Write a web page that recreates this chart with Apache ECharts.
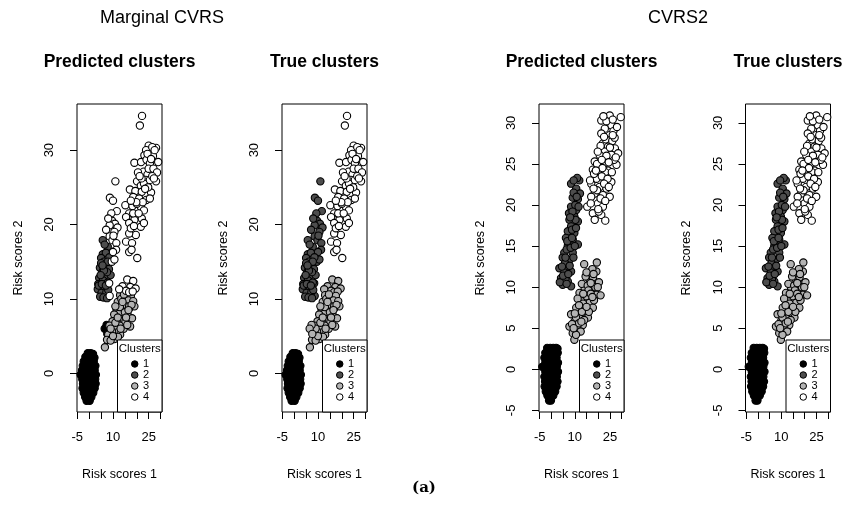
<!DOCTYPE html>
<html>
<head>
<meta charset="utf-8">
<script src="https://cdn.jsdelivr.net/npm/echarts@6/dist/echarts.min.js"></script>
<style>html,body{margin:0;padding:0;background:#fff}#c{width:846px;height:516px}</style>
</head>
<body>
<div id="c"></div>
<script>
// ---------- tick values ----------
const xTicks = [-5, 0, 5, 10, 15, 20, 25, 30];
const xTickLabels = [-5, 10, 25];
const yTicksMarg = [0, 10, 20, 30];
const yTicksCvrs = [-5, 0, 5, 10, 15, 20, 25, 30];
const clusterNames = ['1', '2', '3', '4'];

// ---------- Marginal CVRS data ----------
// true cluster 1 (predicted 1): [x, y]
const margC1 = [
  [-0.6,2.7],[0.6,2.7],[1.6,2.6],
  [-1.6,2.2],[-0.2,2.2],[1.2,2.2],[2.2,2.1],
  [-2.3,1.6],[-0.9,1.6],[0.5,1.6],[1.9,1.6],
  [-2.7,1.0],[-1.4,1.0],[0.0,1.0],[1.4,1.0],[2.6,1.0],
  [-3.0,0.4],[-1.8,0.4],[-0.5,0.4],[0.9,0.4],[2.3,0.4],
  [-3.6,-0.2],[-2.5,-0.2],[-1.1,-0.2],[0.3,-0.2],[1.7,-0.2],[2.8,-0.2],
  [-2.9,-0.8],[-1.7,-0.8],[-0.3,-0.8],[1.1,-0.8],[2.5,-0.8],
  [-2.6,-1.4],[-1.2,-1.4],[0.3,-1.4],[1.7,-1.4],[2.7,-1.4],
  [-2.8,-2.0],[-1.6,-2.0],[-0.2,-2.0],[1.3,-2.0],[2.3,-2.0],
  [-2.3,-2.6],[-0.9,-2.6],[0.5,-2.6],[1.7,-2.6],
  [-1.7,-3.2],[-0.4,-3.2],[0.9,-3.2],
  [-1.1,-3.7],[0.2,-3.7]
];
// true cluster 2: [x, y, predicted cluster]
const margC2 = [
  [11.0,25.8,4],[8.7,23.6,4],[10.0,23.2,4],[11.6,21.8,4],[9.6,20.5,4],[10.8,20.1,4],
  [8.6,19.9,4],[11.9,19.6,4],[7.1,19.3,4],[10.6,19.0,4],[8.6,18.4,4],[9.8,17.9,4],
  [11.4,17.5,4],[11.3,16.6,4],[10.0,16.3,4],[9.5,15.0,4],[10.6,15.3,4],[8.4,12.1,4],[8.6,10.4,4],
  [9.3,21.5,4],[10.2,18.5,4],[8.0,20.8,4],
  [5.7,17.9,2],[7.8,17.0,2],[6.5,17.3,2],[5.7,16.0,2],[7.0,16.2,2],[5.0,15.5,2],[8.5,15.6,2],
  [6.2,15.0,2],[7.2,14.5,2],[4.5,14.2,2],[8.3,14.0,2],[5.5,13.6,2],[6.8,13.2,2],[4.2,12.8,2],
  [9.0,13.2,2],[5.8,12.5,2],[7.8,12.2,2],[3.8,12.0,2],[4.9,11.6,2],[6.5,11.4,2],[3.6,11.3,2],
  [5.2,10.8,2],[7.2,10.9,2],[4.6,10.3,2],[6.0,10.2,2],[7.5,10.1,2],[5.0,14.8,2],[6.0,14.0,2],
  [7.5,13.6,2],[4.0,11.8,2],[8.0,11.2,2],[5.3,12.0,2],[7.0,11.8,2],[6.2,13.8,2],[4.8,13.2,2],
  [7.8,15.0,2],[5.6,14.5,2]
];
// true cluster 3: [x, y, predicted cluster]
const margC3 = [
  [16.0,12.6,4],[18.5,12.4,4],[14.0,11.7,4],[17.3,11.6,4],[19.5,11.4,4],[15.5,11.1,4],
  [12.6,11.3,4],[16.8,10.9,4],[18.3,11.0,4],
  [13.0,10.5,3],[17.5,10.4,3],[14.8,10.0,3],[16.5,9.8,3],[12.0,9.6,3],[18.5,9.7,3],
  [13.6,9.2,3],[15.6,9.0,3],[11.5,8.6,3],[17.0,8.8,3],[14.2,8.3,3],[12.5,8.0,3],
  [16.2,7.8,3],[10.5,7.9,3],[18.0,7.4,3],[13.8,7.3,3],[11.6,7.1,3],[15.2,6.9,3],
  [9.8,7.0,3],[12.8,6.4,3],[17.2,6.3,3],[10.6,6.2,3],[14.5,6.0,3],[8.5,6.4,3],
  [11.8,5.5,3],[9.6,5.6,3],[13.0,5.2,3],[8.0,5.2,3],[10.6,4.6,3],[7.5,4.5,3],
  [9.0,4.4,3],[6.6,3.5,3],[12.9,8.9,3],[15.0,8.2,3],[11.0,6.8,3],[19.0,9.0,3],
  [16.0,6.5,3],[13.5,10.0,3],[12.1,4.9,3],[14.0,9.6,3],[16.8,9.0,3],[12.0,7.5,3],
  [15.5,7.5,3],[13.2,6.0,3],[10.0,5.0,3],[17.8,9.2,3],[11.0,9.0,3],[14.6,10.6,3],
  [9.0,6.0,3],[16.5,8.5,3],
  [7.3,6.5,1],[6.5,6.0,1],[7.6,5.3,1]
];
// true cluster 4 (predicted 4): [x, y]
const margC4 = [
  [22.2,34.6],[21.3,33.3],[25.0,30.6],[28.1,30.3],[23.9,30.0],[26.5,30.4],[23.2,29.3],
  [19.0,28.3],[21.8,28.4],[24.1,28.7],[29.0,28.4],[25.5,28.2],[22.9,27.1],[24.5,26.7],
  [23.8,26.0],[20.1,25.8],[28.1,25.8],[21.7,25.2],[26.0,24.3],[17.1,24.7],[19.4,24.5],
  [22.1,24.4],[18.5,23.7],[21.0,23.5],[24.0,23.3],[15.2,22.6],[18.2,22.5],[21.7,22.4],
  [23.0,21.9],[16.8,21.5],[20.2,21.3],[15.5,21.0],[22.1,20.8],[19.0,20.6],[16.8,20.2],
  [21.7,19.7],[19.6,18.6],[16.8,18.8],[15.5,17.7],[18.0,17.5],[16.8,16.3],[20.2,15.5],
  [17.8,16.6],[25.0,27.5],[26.8,29.2],[20.5,27.0],[23.0,25.5],[24.8,25.0],[20.0,22.8],
  [22.5,23.0],[17.5,19.5],[18.5,21.5],[25.5,26.0],[27.0,27.5],[27.5,30.0],[24.5,29.5],
  [26.0,28.8],[28.5,27.0],[22.0,26.2],[26.5,26.5],[19.8,23.0],[23.5,24.8],[25.5,23.5],
  [20.8,21.5],[18.8,19.8],[23.0,20.2],[17.5,23.2],[21.2,26.5],[27.2,26.2]
];

// ---------- CVRS2 data (predicted = true) ----------
const cvrsC1 = [
  [-1.8,2.6],[-0.5,2.6],[0.8,2.6],[2.0,2.6],[2.6,2.5],
  [-2.6,2.0],[-1.2,2.0],[0.2,2.0],[1.5,2.0],[2.7,2.0],
  [-3.0,1.4],[-1.8,1.4],[-0.5,1.4],[0.9,1.4],[2.2,1.4],
  [-2.6,0.8],[-1.2,0.8],[0.2,0.8],[1.6,0.8],[2.8,0.8],
  [-3.9,0.3],[-2.9,0.3],[-1.7,0.3],[-0.4,0.3],[1.0,0.3],[2.3,0.3],
  [-2.6,-0.3],[-1.2,-0.3],[0.3,-0.3],[1.7,-0.3],[2.8,-0.3],
  [-3.0,-0.9],[-1.8,-0.9],[-0.4,-0.9],[1.0,-0.9],[2.3,-0.9],
  [-2.7,-1.5],[-1.3,-1.5],[0.1,-1.5],[1.5,-1.5],[2.6,-1.5],
  [-2.9,-2.1],[-1.7,-2.1],[-0.3,-2.1],[1.1,-2.1],[2.2,-2.1],
  [-2.4,-2.7],[-1.0,-2.7],[0.4,-2.7],[1.6,-2.7],
  [-1.7,-3.2],[-0.4,-3.2],[0.8,-3.2],
  [-1.0,-3.8],[-0.2,-3.8]
];
const cvrsC2 = [
  [11.9,23.0],[8.4,22.6],[10.6,22.0],[12.2,21.4],[9.1,20.9],[11.3,20.7],[8.4,19.8],
  [10.6,19.4],[9.8,18.6],[7.7,18.2],[11.3,18.0],[8.4,17.4],[7.0,16.8],[9.8,16.6],
  [6.2,16.0],[9.1,15.8],[11.3,15.2],[7.0,15.0],[5.5,14.2],[9.1,14.2],[4.8,13.6],
  [7.7,13.3],[3.4,12.3],[6.3,12.1],[8.4,11.9],[4.1,11.1],[7.0,10.7],[4.8,10.3],
  [8.4,10.1],[10.2,20.0],[9.5,21.5],[8.8,17.0],[10.5,17.2],[6.5,14.6],[8.2,14.8],
  [5.8,12.9],[6.0,11.0],[10.0,15.0],[7.5,19.0],[9.0,19.2],[10.8,21.0],[3.6,10.6],
  [6.5,10.4],[11.0,23.3],[5.5,11.8],[7.8,12.6],[4.5,12.5],[10.3,18.2],[9.5,23.0],
  [11.6,19.8],[8.0,18.5],[6.8,15.6],[8.8,16.0],[9.4,13.6],[5.0,11.4],[7.2,11.6],[6.0,13.6]
];
const cvrsC3 = [
  [14.0,12.8],[19.4,13.0],[19.2,11.9],[16.3,10.9],[18.5,10.3],[14.2,9.9],[17.0,9.5],
  [12.0,9.3],[14.9,8.9],[19.2,9.1],[12.7,8.3],[16.3,8.1],[10.6,7.5],[14.2,7.3],
  [17.7,7.5],[8.4,6.7],[12.0,6.5],[15.6,6.3],[9.8,5.8],[13.4,5.4],[7.7,5.2],
  [11.3,4.8],[9.1,4.4],[9.8,3.6],[20.3,10.6],[21.0,9.0],[13.0,10.4],[15.5,10.2],
  [17.8,11.2],[13.5,8.0],[15.8,9.6],[18.2,8.4],[11.2,8.6],[16.0,7.0],[13.0,7.0],
  [10.5,6.3],[14.0,6.0],[11.8,5.6],[8.8,5.5],[12.5,4.6],[10.5,4.2],[16.8,9.2],
  [18.8,10.0],[14.6,11.3],[16.5,11.8],[17.5,12.2],[15.0,11.8],[18.0,11.6],[13.6,9.2],
  [17.5,8.8],[11.8,7.8],[15.0,7.6],[12.8,5.8],[10.0,6.8],[16.8,10.5],[19.8,10.0],[9.5,5.0]
];
const cvrsC4 = [
  [24.9,30.9],[29.6,30.7],[21.3,30.3],[25.6,29.7],[22.8,29.3],[21.3,28.7],[24.9,28.5],
  [22.0,27.5],[24.2,27.1],[27.1,26.9],[28.5,26.3],[22.8,26.5],[20.6,26.1],[25.6,26.1],
  [18.5,25.3],[22.8,25.1],[27.8,24.9],[17.7,24.3],[20.6,24.0],[24.2,24.2],[19.2,23.2],
  [22.8,23.0],[25.6,22.8],[17.0,22.6],[20.6,22.2],[23.5,22.0],[18.5,21.4],[22.0,21.2],
  [17.0,21.0],[24.9,21.0],[15.3,19.8],[19.9,20.2],[22.0,19.8],[17.7,19.0],[21.3,18.8],
  [18.5,18.2],[23.0,18.1],[23.5,30.2],[26.5,29.0],[23.2,28.0],[26.0,27.8],[21.0,27.2],
  [25.0,27.0],[23.5,26.0],[26.8,25.5],[19.5,25.0],[21.5,25.5],[24.5,25.2],[23.0,24.0],
  [18.2,23.8],[21.5,23.5],[16.5,23.0],[24.0,23.2],[19.5,21.8],[21.0,20.8],[16.8,20.2],
  [23.0,20.5],[20.2,19.2],[27.0,28.2],[22.2,30.8],[26.2,30.4],[28.0,29.5],[22.5,28.3],
  [27.5,25.8],[19.8,26.5],[25.8,24.0],[21.8,24.5],[18.0,22.0],[22.5,22.6],[24.5,22.2],
  [20.0,19.5],[19.0,24.2],[26.2,28.5]
];

// ---------- assemble cluster lists ----------
const xy = p => [p[0], p[1]];
const margTrue = [margC1, margC2.map(xy), margC3.map(xy), margC4];
const margPred = [[], [], [], []];
margC1.forEach(p => margPred[0].push(p));
margC2.forEach(p => margPred[p[2] - 1].push(xy(p)));
margC3.forEach(p => margPred[p[2] - 1].push(xy(p)));
margC4.forEach(p => margPred[3].push(p));
const cvrsAll = [cvrsC1, cvrsC2, cvrsC3, cvrsC4];

const fillColors = ['#000000', '#4d4d4d', '#b3b3b3', '#ffffff'];
const FONT = '"Liberation Sans", Arial, Helvetica, sans-serif';

const panels = [
  {left: 77,  data: margPred, yTicks: yTicksMarg, xr: [-5.13, 30.6], yr: [-5.2, 36.2], title: 'Predicted clusters'},
  {left: 282, data: margTrue, yTicks: yTicksMarg, xr: [-5.13, 30.6], yr: [-5.2, 36.2], title: 'True clusters'},
  {left: 539, data: cvrsAll,  yTicks: yTicksCvrs, xr: [-5.3, 31.0],  yr: [-5.2, 32.3], title: 'Predicted clusters'},
  {left: 745.5, data: cvrsAll, yTicks: yTicksCvrs, xr: [-5.3, 31.0], yr: [-5.2, 32.3], title: 'True clusters'}
];
const TOP = 104, W = 85, H = 308;

const grid = [], xAxis = [], yAxis = [], series = [], legend = [], graphic = [];
panels.forEach((p, i) => {
  grid.push({left: p.left, top: TOP, width: W, height: H, show: true,
    borderColor: '#000', borderWidth: 1, backgroundColor: 'transparent'});
  xAxis.push({
    gridIndex: i, type: 'value', min: p.xr[0], max: p.xr[1],
    axisLine: {show: false, onZero: false},
    splitLine: {show: false},
    axisTick: {show: true, customValues: xTicks, length: 7, lineStyle: {color: '#000', width: 1}},
    axisLabel: {customValues: xTickLabels, margin: 19, fontSize: 13, color: '#000', fontFamily: FONT},
    name: 'Risk scores 1', nameLocation: 'middle', nameGap: 56,
    nameTextStyle: {fontSize: 12.5, color: '#000', fontFamily: FONT}
  });
  yAxis.push({
    gridIndex: i, type: 'value', min: p.yr[0], max: p.yr[1],
    axisLine: {show: false, onZero: false},
    splitLine: {show: false},
    axisTick: {show: true, customValues: p.yTicks, length: 7, lineStyle: {color: '#000', width: 1}},
    axisLabel: {customValues: p.yTicks, rotate: 90, margin: 21, fontSize: 13, color: '#000', fontFamily: FONT},
    name: 'Risk scores 2', nameLocation: 'middle', nameGap: 52,
    nameTextStyle: {fontSize: 12.5, color: '#000', fontFamily: FONT}
  });
  p.data.forEach((pts, k) => {
    series.push({
      type: 'scatter', name: clusterNames[k], xAxisIndex: i, yAxisIndex: i,
      data: pts, symbol: 'circle', symbolSize: 7.3, silent: true,
      itemStyle: {color: fillColors[k], borderColor: '#000', borderWidth: 1.1, opacity: 1},
      z: 2
    });
  });
  // legend box + title
  const lx = p.left + 40.5, ly = 340, lw = p.left + W - lx, lh = TOP + H - ly;
  graphic.push({type: 'rect', z: 3, shape: {x: lx, y: ly, width: lw, height: lh},
    style: {fill: '#fff', stroke: '#000', lineWidth: 1}});
  graphic.push({type: 'text', z: 5, x: lx + lw / 2, y: ly + 8.5,
    style: {text: 'Clusters', fontSize: 11.5, fontFamily: FONT, fill: '#000', align: 'center', verticalAlign: 'middle'}});
  legend.push({
    data: clusterNames, orient: 'vertical', left: lx + 13.5, top: 358.5,
    itemWidth: 6.5, itemHeight: 6.5, itemGap: 0, padding: 0, icon: 'circle', selectedMode: false,
    itemStyle: {borderColor: '#000', borderWidth: 1},
    textStyle: {fontSize: 11, lineHeight: 9, color: '#000', fontFamily: FONT}, z: 6
  });
  // panel title
  graphic.push({type: 'text', x: p.left + W / 2, y: 62,
    style: {text: p.title, fontSize: 17.5, fontWeight: 'bold', fontFamily: FONT, fill: '#000', align: 'center', verticalAlign: 'middle'}});
});
graphic.push({type: 'text', x: 162, y: 18,
  style: {text: 'Marginal CVRS', fontSize: 18, fontFamily: FONT, fill: '#000', align: 'center', verticalAlign: 'middle'}});
graphic.push({type: 'text', x: 678, y: 18,
  style: {text: 'CVRS2', fontSize: 18, fontFamily: FONT, fill: '#000', align: 'center', verticalAlign: 'middle'}});
graphic.push({type: 'text', x: 424, y: 488,
  style: {text: '(a)', fontSize: 15, fontWeight: 'bold', fontFamily: '"DejaVu Serif", "Liberation Serif", serif', fill: '#000', align: 'center', verticalAlign: 'middle'}});

const chart = echarts.init(document.getElementById('c'), null, {renderer: 'canvas'});
chart.setOption({animation: false, backgroundColor: '#fff', grid, xAxis, yAxis, series, legend, graphic});
</script>
</body>
</html>
